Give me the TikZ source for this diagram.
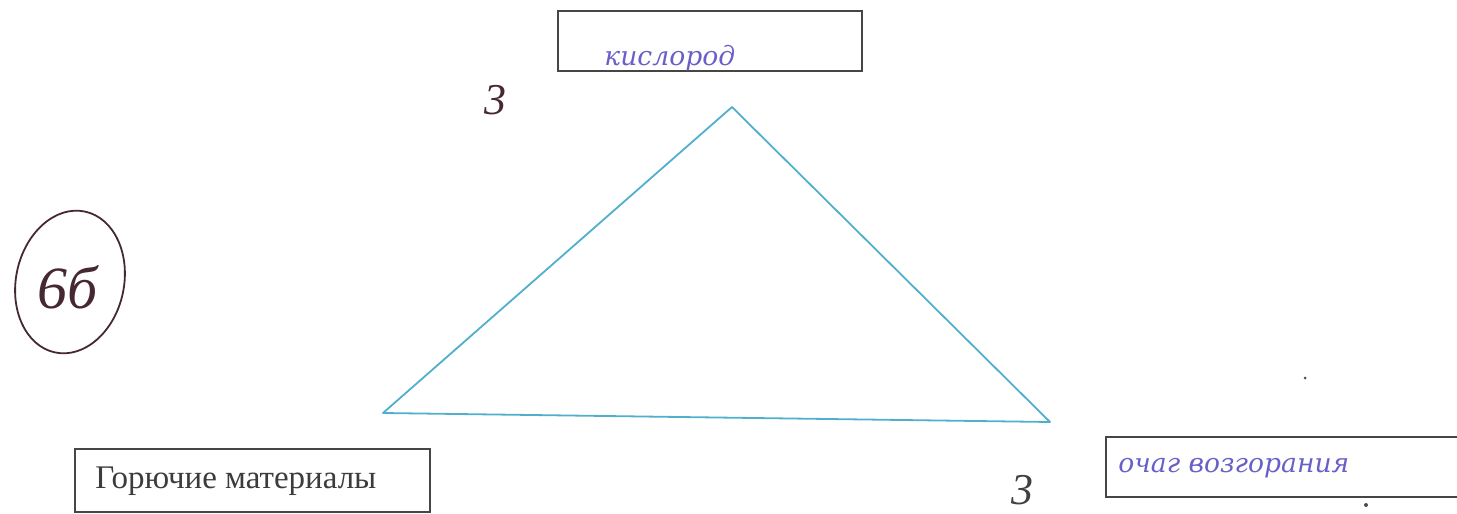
\documentclass[tikz,border=0pt]{standalone}
\usepackage{fontspec}
\setmainfont{Liberation Serif}
\newfontfamily\hand{DejaVu Serif}
\definecolor{tri}{RGB}{80,175,205}
\definecolor{ink}{RGB}{105,95,200}
\definecolor{pen}{RGB}{70,40,50}
\definecolor{boxc}{RGB}{70,70,70}
\definecolor{printc}{RGB}{60,60,60}
\begin{document}
\begin{tikzpicture}[x=0.5pt,y=-0.5pt,
  lbox/.style={draw=boxc,line width=0.7pt},
  handtxt/.style={text=ink,font=\hand\itshape\fontsize{13.3}{13.3}\selectfont,inner sep=0pt},
  pentxt/.style={text=pen,font=\itshape\fontsize{22}{22}\selectfont,inner sep=0pt}]
\useasboundingbox (0,0) rectangle (1457,514);
% top box
\draw[lbox] (558,11) rectangle (862,71);
\node[handtxt,anchor=west] (oxy) at (604,58) {кислород};
% bottom-left box
\draw[lbox] (75,449) rectangle (430,512);
\node[text=printc,font=\fontsize{16.5}{16.5}\selectfont,anchor=west,inner sep=0pt] (fuel) at (95,481) {Горючие материалы};
% bottom-right box (runs off the page)
\draw[lbox] (1470,437) -- (1106,437) -- (1106,497) -- (1470,497);
\node[handtxt,anchor=west] (heat) at (1118,468) {очаг возгорания};
% triangle
\coordinate (A) at (732,107);
\coordinate (B) at (383,413);
\coordinate (C) at (1050,422);
\draw[tri,line width=0.9pt,line join=round] (A) -- (B) -- (C) -- cycle;
% handwritten marks
\node[pentxt] (m1) at (495,100) {3};
\node[pentxt,text=black!75] (m2) at (1022,490) {3};
% circled mark
\draw[pen,line width=0.9pt,rotate around={-12:(70,282)}] (70,282) ellipse (54 and 72);
\node[text=pen,font=\itshape\fontsize{30}{30}\selectfont,inner sep=0pt] (grade) at (68,287) {6б};
% stray dots
\fill[black!70] (1305,378) circle (1.5);
\fill[black!70] (1366,505) circle (2);
\end{tikzpicture}
\end{document}
